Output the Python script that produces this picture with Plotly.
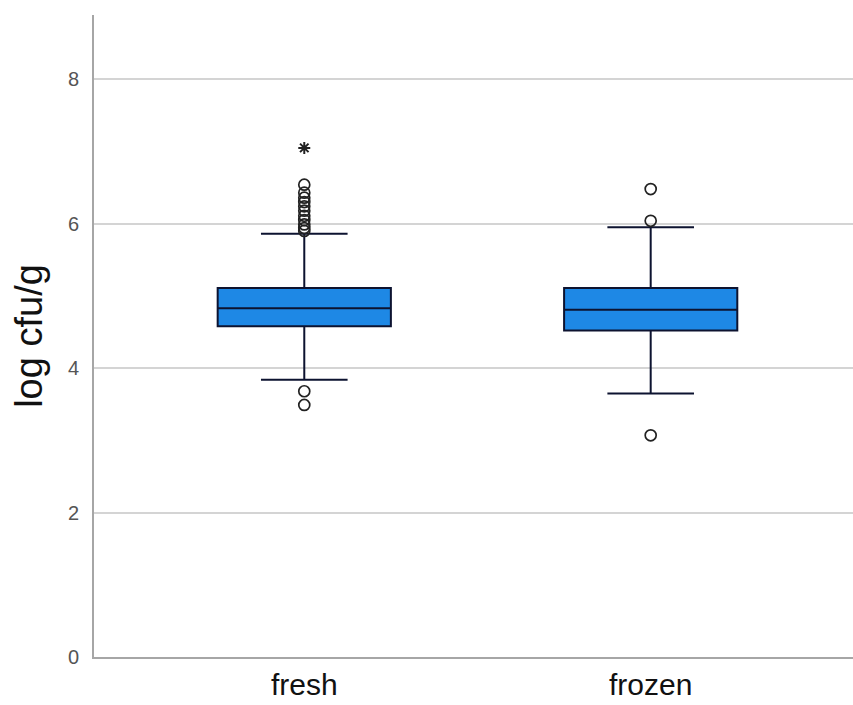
import plotly.graph_objects as go

categories = ["fresh", "frozen"]
q1 = [4.58, 4.52]
median = [4.83, 4.81]
q3 = [5.11, 5.11]
lower_whisker = [3.84, 3.65]
upper_whisker = [5.86, 5.95]

fresh_outliers = [6.54, 6.43, 6.36, 6.30, 6.24, 6.18, 6.11, 6.05, 5.99, 5.94, 5.90, 3.68, 3.49]
frozen_outliers = [6.48, 6.04, 3.07]
fresh_extremes = [7.05]

y_ticks = [0, 2, 4, 6, 8]
y_title = "log cfu/g"

fig = go.Figure()
fig.add_trace(go.Box(
    x=categories, q1=q1, median=median, q3=q3,
    lowerfence=lower_whisker, upperfence=upper_whisker,
    width=0.5, whiskerwidth=0.5, boxpoints=False,
    fillcolor="#1E88E5", line=dict(color="#0d1330", width=2),
    showlegend=False, hoverinfo="skip",
))
circ = dict(symbol="circle-open", size=11, color="#222222", line=dict(width=1.7))
fig.add_trace(go.Scatter(x=[categories[0]] * len(fresh_outliers), y=fresh_outliers,
                         mode="markers", marker=circ, showlegend=False))
fig.add_trace(go.Scatter(x=[categories[1]] * len(frozen_outliers), y=frozen_outliers,
                         mode="markers", marker=circ, showlegend=False))
fig.add_trace(go.Scatter(x=[categories[0]] * len(fresh_extremes), y=fresh_extremes,
                         mode="markers",
                         marker=dict(symbol="asterisk-open", size=10, color="#222222",
                                     line=dict(width=2, color="#222222")),
                         showlegend=False))

fig.update_layout(
    width=853, height=705,
    margin=dict(l=94, r=0, t=15, b=48, autoexpand=False),
    paper_bgcolor="white", plot_bgcolor="white",
    font=dict(family="Liberation Sans, Arial, sans-serif"),
)
fig.update_xaxes(
    type="category", range=[-0.607, 1.584], automargin=False,
    showline=True, linecolor="#a6a6a6", linewidth=2,
    showgrid=False, ticks="", tickfont=dict(size=30, color="#111111"),
    ticklabelstandoff=0,
)
fig.update_yaxes(
    range=[0, 8.89], tickvals=y_ticks, automargin=False,
    showline=True, linecolor="#a6a6a6", linewidth=2,
    showgrid=True, gridcolor="#d4d4d4", gridwidth=1.5, zeroline=False,
    ticks="", tickfont=dict(size=20, color="#555555"), ticklabelstandoff=9,
    title=dict(text=y_title, font=dict(size=38, color="#111111"), standoff=14),
)
fig.write_html("out.html", config={"displayModeBar": False},
               post_script="document.body.style.margin='0';document.body.style.overflow='hidden';")
